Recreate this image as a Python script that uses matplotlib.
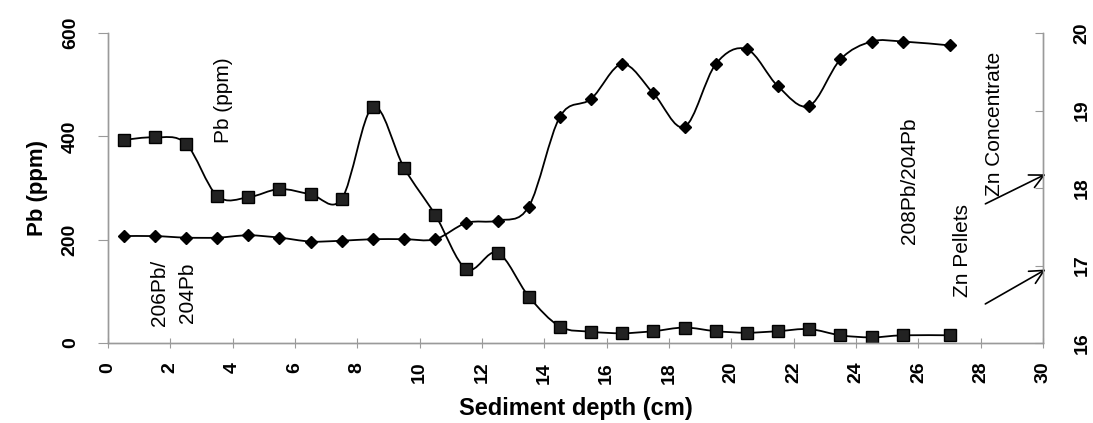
import numpy as np
import matplotlib
matplotlib.use("Agg")
import matplotlib.pyplot as plt
from matplotlib.path import Path
from matplotlib.patches import PathPatch

plt.rcParams["font.family"] = ["Liberation Sans", "DejaVu Sans"]

# sediment depth (cm)
depth = [0.5, 1.5, 2.5, 3.5, 4.5, 5.5, 6.5, 7.5, 8.5, 9.5, 10.5, 11.5, 12.5, 13.5,
         14.5, 15.5, 16.5, 17.5, 18.5, 19.5, 20.5, 21.5, 22.5, 23.5, 24.5, 25.5, 27.0]
# Pb concentration (ppm)
pb_ppm = [393, 398, 386, 285, 282, 298, 288, 279, 457, 339, 248, 143, 175, 90,
          32, 22, 19, 23, 30, 23, 20, 23, 27, 15, 11, 15, 15]
# 206Pb/204Pb ratio
pb_ratio = [17.38, 17.38, 17.36, 17.36, 17.39, 17.36, 17.31, 17.32, 17.34, 17.34, 17.34,
            17.55, 17.58, 17.76, 18.92, 19.15, 19.60, 19.22, 18.79, 19.60, 19.79,
            19.31, 19.06, 19.66, 19.89, 19.89, 19.84]

GREY = "#9a9a9a"


def smooth_path(x, y):
    """Catmull-Rom style bezier path through the points (like Excel smoothed lines)."""
    pts = np.column_stack([x, y]).astype(float)
    n = len(pts)
    verts = [pts[0]]
    codes = [Path.MOVETO]
    for i in range(n - 1):
        p_prev = pts[i - 1] if i > 0 else pts[i]
        p0 = pts[i]
        p1 = pts[i + 1]
        p_next = pts[i + 2] if i + 2 < n else pts[i + 1]
        c1 = p0 + (p1 - p_prev) / 6.0
        c2 = p1 - (p_next - p0) / 6.0
        verts += [c1, c2, p1]
        codes += [Path.CURVE4] * 3
    return Path(verts, codes)


fig = plt.figure(figsize=(10.93, 4.23), dpi=100)
ax = fig.add_axes([0.0988, 0.189, 0.8555, 0.733])
ax2 = ax.twinx()

# Pb (ppm) series
ax.add_patch(PathPatch(smooth_path(depth, pb_ppm), fill=False, lw=1.3, color="black"))
ax.plot(depth, pb_ppm, ls="none", marker="s", ms=8, color="black", mfc="#222222")

# isotope ratio series
ax2.add_patch(PathPatch(smooth_path(depth, pb_ratio), fill=False, lw=1.3, color="black"))
ax2.plot(depth, pb_ratio, ls="none", marker="D", ms=6, color="black")

ax.set_xlim(0, 30)
ax.set_ylim(0, 600)
ax.set_xticks(range(0, 31, 2))
ax.set_yticks([0, 200, 400, 600])
ax2.set_ylim(16, 20)
ax2.set_yticks([16, 17, 18, 19, 20])

for a in (ax, ax2):
    a.spines["top"].set_visible(False)
    for s in ("left", "right", "bottom"):
        a.spines[s].set_color(GREY)
        a.spines[s].set_linewidth(1.0)

ax.tick_params(axis="x", direction="inout", length=7, color=GREY, pad=10,
               labelsize=14, labelrotation=90)
ax.tick_params(axis="y", direction="out", length=7, color=GREY, pad=14,
               labelsize=14, labelrotation=90)
ax2.tick_params(axis="y", direction="in", length=6, color=GREY, pad=22,
                labelsize=14, labelrotation=90)
for lbl in ax.get_xticklabels() + ax.get_yticklabels() + ax2.get_yticklabels():
    lbl.set_fontweight("bold")
for lbl in ax.get_yticklabels() + ax2.get_yticklabels():
    lbl.set_verticalalignment("center")

ax.set_xlabel("Sediment depth (cm)", fontsize=17, fontweight="bold", labelpad=10)
ax.set_ylabel("Pb (ppm)", fontsize=16, fontweight="bold", labelpad=10)

# in-plot labels
ax.text(3.7, 470, "Pb (ppm)", rotation=90, ha="center", va="center", fontsize=15)
ax.text(2.1, 97, "206Pb/\n204Pb", rotation=90, ha="center", va="center", fontsize=15,
        linespacing=1.55)
ax.text(25.7, 315, "208Pb/204Pb", rotation=90, ha="center", va="center", fontsize=15)
ax.text(27.4, 180, "Zn Pellets", rotation=90, ha="center", va="center", fontsize=15)
ax.text(28.45, 425, "Zn Concentrate", rotation=90, ha="center", va="center", fontsize=15)

arrow = dict(arrowstyle="->,head_length=1.0,head_width=0.5", lw=1.2, color="black")
ax.annotate("", xy=(30.16, 145), xytext=(28.07, 73), arrowprops=arrow, annotation_clip=False)
ax.annotate("", xy=(30.16, 329), xytext=(28.07, 267), arrowprops=arrow, annotation_clip=False)

fig.savefig("out.png", dpi=100)
